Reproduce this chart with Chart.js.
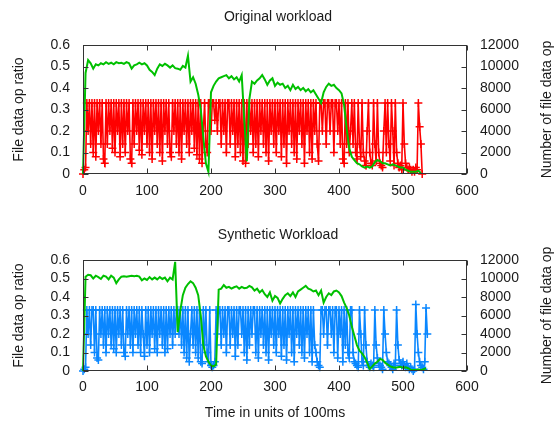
<!DOCTYPE html>
<html>
<head>
<meta charset="utf-8">
<script src="https://cdn.jsdelivr.net/npm/chart.js@4.4.0/dist/chart.umd.min.js"></script>
<style>
  html, body { margin: 0; padding: 0; background: #fff; }
  #wrap { position: relative; width: 556px; height: 434px; }
  .panel { position: absolute; left: 0; width: 556px; height: 217px; }
</style>
</head>
<body>
<div id="wrap">
  <div class="panel" style="top:0"><canvas id="origChart" width="556" height="217"></canvas></div>
  <div class="panel" style="top:217px"><canvas id="synthChart" width="556" height="217"></canvas></div>
</div>
<script>
// axis ticks
const timeTicks = [0, 100, 200, 300, 400, 500, 600];
const ratioTicks = [0, 0.1, 0.2, 0.3, 0.4, 0.5, 0.6];
const opsTicks = [0, 2000, 4000, 6000, 8000, 10000, 12000];

// ratio is sampled every 2 time units, op counts every 4
const ratioStep = 2;
const opsStep = 4;

// original workload: file data op ratio (t = 0, 2, 4 ...)
const origRatio = [
  0, 0.02, 0.03, 0.33, 0.2,      0.33, 0.14, 0.33, 0.1, 0.33,
  0.08, 0.33, 0.2, 0.33, 0.14,   0.33, 0.07, 0.05, 0.33, 0.14,
  0.33, 0.2, 0.33, 0.12, 0.33,   0.1, 0.33, 0.2, 0.33, 0.08,
  0.33, 0.14, 0.33, 0.1, 0.33,   0.2, 0.33, 0.07, 0.05, 0.33,
  0.14, 0.33, 0.2, 0.33, 0.11,   0.33, 0.09, 0.33, 0.2, 0.33,
  0.14, 0.33, 0.1, 0.33, 0.07,   0.33, 0.2, 0.33, 0.14, 0.33,
  0.1, 0.33, 0.06, 0.33, 0.2,    0.33, 0.14, 0.33, 0.1, 0.08,
  0.33, 0.2, 0.33, 0.14, 0.33,   0.1, 0.33, 0.07, 0.33, 0.2,
  0.33, 0.14, 0.33, 0.1, 0.33,   0.2, 0.33, 0.12, 0.33, 0.09,
  0.33, 0.07, 0.33, 0.05, 0.2,   0.33, 0.14, 0.1, 0.33, 0.33,
  0.2, 0.33, 0.33, 0.25, 0.33,   0.2, 0.33, 0.33, 0.14, 0.33,
  0.2, 0.33, 0.1, 0.33, 0.33,    0.14, 0.33, 0.2, 0.33, 0.08,
  0.33, 0.14, 0.33, 0.1, 0.33,   0.06, 0.33, 0.05, 0.33, 0.14,
  0.33, 0.2, 0.33, 0.1, 0.33,    0.14, 0.33, 0.08, 0.33, 0.2,
  0.33, 0.14, 0.33, 0.1, 0.33,   0.06, 0.33, 0.2, 0.33, 0.14,
  0.33, 0.1, 0.33, 0.2, 0.33,    0.08, 0.33, 0.14, 0.33, 0.05,
  0.33, 0.2, 0.33, 0.14, 0.33,   0.1, 0.33, 0.07, 0.33, 0.2,
  0.33, 0.14, 0.33, 0.05, 0.33,  0.2, 0.33, 0.1, 0.33, 0.07,
  0.33, 0.2, 0.33, 0.14, 0.06,   0.33, 0.33, 0.2, 0.33, 0.33,
  0.14, 0.33, 0.33, 0.2, 0.33,   0.33, 0.1, 0.33, 0.33, 0.2,
  0.33, 0.14, 0.33, 0.07, 0.05,  0.33, 0.14, 0.33, 0.1, 0.2,
  0.33, 0.14, 0.33, 0.1, 0.07,   0.33, 0.14, 0.08, 0.33, 0.1,
  0.06, 0.04, 0.2, 0.33, 0.1,    0.05, 0.04, 0.33, 0.14, 0.06,
  0.33, 0.1, 0.05, 0.04, 0.03,   0.2, 0.33, 0.1, 0.33, 0.14,
  0.06, 0.33, 0.2, 0.04, 0.33,   0.1, 0.05, 0.03, 0.04, 0.02,
  0.33, 0.14, 0.05, 0.03, 0.02,  0.03, 0.02, 0.01, 0.02, 0.01,
  0.03, 0.02, 0.33, 0.22, 0.14,  0
];

// original workload: number of file data ops (t = 0, 4, 8 ...)
const origOps = [
  0, 9400, 10600, 10300, 9800, 10200, 10100, 10300, 10200, 10400,
  10250, 10350, 10200, 10400, 10300, 10350, 10250, 10400, 10300, 9800,
  10100, 10200, 10350, 10200, 10300, 10100, 9700, 9500, 9200, 9800,
  10200, 10050, 10250, 10100, 9900, 10100, 9850, 9800, 9700, 10050,
  9900, 11000, 8600, 9000, 8400, 7400, 6000, 3400, 1000, 200,
  7600, 8200, 8600, 8900, 9000, 9100, 9200, 8900, 9100, 8800,
  9000, 8600, 9200, 5000, 1200, 7000, 8600, 8400, 8700, 8900,
  9200, 8800, 8300, 8700, 8900, 8200, 8500, 8300, 8400, 8000,
  8200, 7800, 8300, 7900, 8100, 7800, 8000, 7700, 7900, 7600,
  7800, 7400, 7000, 6600, 7600, 8100, 8400, 8200, 8300, 8000,
  7800, 7500, 6400, 4200, 2400, 1600, 1300, 1000, 900, 700,
  600, 700, 600, 700, 1100, 1300, 1200, 1000, 1000, 900,
  800, 900, 800, 700, 600, 600, 400, 300, 200, 200,
  200, 300, 100
];

// synthetic workload: file data op ratio (t = 0, 2, 4 ...)
const synthRatio = [
  0, 0.01, 0.02, 0.33, 0.2,      0.33, 0.14, 0.33, 0.33, 0.1,
  0.33, 0.07, 0.06, 0.33, 0.2,   0.33, 0.14, 0.33, 0.1, 0.33,
  0.2, 0.33, 0.14, 0.33, 0.12,   0.33, 0.1, 0.33, 0.2, 0.33,
  0.14, 0.33, 0.1, 0.08, 0.33,   0.2, 0.33, 0.14, 0.33, 0.1,
  0.33, 0.2, 0.33, 0.14, 0.33,   0.1, 0.33, 0.2, 0.08, 0.33,
  0.14, 0.33, 0.1, 0.33, 0.2,    0.33, 0.12, 0.33, 0.1, 0.33,
  0.2, 0.33, 0.14, 0.33, 0.1,    0.33, 0.12, 0.33, 0.2, 0.33,
  0.14, 0.33, 0.2, 0.33, 0.33,   0.2, 0.33, 0.14, 0.33, 0.1,
  0.33, 0.07, 0.33, 0.05, 0.2,   0.33, 0.14, 0.33, 0.1, 0.33,
  0.07, 0.33, 0.05, 0.04, 0.33,  0.14, 0.33, 0.1, 0.05, 0.33,
  0.03, 0.02, 0.03, 0.05, 0.33,  0.2, 0.33, 0.33, 0.14, 0.33,
  0.2, 0.33, 0.1, 0.33, 0.33,    0.14, 0.33, 0.2, 0.33, 0.08,
  0.33, 0.14, 0.33, 0.33, 0.2,   0.33, 0.1, 0.33, 0.06, 0.33,
  0.14, 0.33, 0.2, 0.33, 0.33,   0.1, 0.33, 0.07, 0.33, 0.2,
  0.33, 0.14, 0.33, 0.1, 0.33,   0.06, 0.33, 0.2, 0.33, 0.14,
  0.33, 0.1, 0.33, 0.2, 0.33,    0.08, 0.33, 0.14, 0.33, 0.06,
  0.33, 0.2, 0.33, 0.1, 0.33,    0.05, 0.33, 0.2, 0.33, 0.14,
  0.33, 0.1, 0.33, 0.07, 0.33,   0.2, 0.33, 0.1, 0.33, 0.05,
  0.33, 0.14, 0.1, 0.05, 0.03,   0.02, 0.33, 0.33, 0.2, 0.33,
  0.33, 0.14, 0.33, 0.33, 0.2,   0.33, 0.1, 0.33, 0.33, 0.07,
  0.33, 0.2, 0.33, 0.05, 0.33,   0.14, 0.33, 0.1, 0.07, 0.33,
  0.33, 0.1, 0.05, 0.04, 0.03,   0.02, 0.33, 0.2, 0.05, 0.03,
  0.33, 0.14, 0.05, 0.03, 0.02,  0.04, 0.03, 0.02, 0.33, 0.14,
  0.07, 0.04, 0.03, 0.02, 0.01,  0.33, 0.2, 0.1, 0.05, 0.04,
  0.03, 0.02, 0.01, 0.04, 0.03,  0.33, 0.14, 0.06, 0.04, 0.03,
  0.05, 0.03, 0.02, 0.04, 0.02,  0.01, 0.02, 0.01, 0, 0.01,
  0.36, 0.2, 0.1, 0.05, 0.03,    0.02, 0.01, 0.05, 0.34, 0.2
];

// synthetic workload: number of file data ops (t = 0, 4, 8 ...)
const synthOps = [
  0, 10200, 10400, 10350, 10000, 10300, 10150, 9950, 10300, 10200,
  9900, 10300, 10100, 9500, 9900, 10200, 10250, 10200, 10250, 10300,
  10250, 10300, 10200, 9800, 10000, 9850, 10150, 9900, 10100, 9900,
  10150, 9950, 10100, 9700, 10100, 9900, 11800, 4200, 6500, 8200,
  9000, 9400, 9700, 9500, 9000, 8200, 6000, 2800, 1600, 1000,
  600, 500, 700, 8800, 8900, 9300, 9000, 9100, 8900, 9050,
  9150, 8900, 9100, 8950, 9000, 9200, 9050, 8700, 8900, 8500,
  8750, 8300, 8000, 8500, 7600, 8100, 7900, 7300, 7800, 8200,
  8400, 8100, 8500, 8000, 8600, 8800, 9000, 9200, 8900, 8800,
  8600, 8700, 8200, 8700, 7400, 8000, 8400, 8200, 8600, 8700,
  8500, 8100, 7400, 6800, 6000, 4800, 3800, 2800, 2200, 1900,
  1500, 900, 200, 500, 800, 1000, 1300, 1200, 900, 700,
  500, 400, 350, 400, 450, 350, 400, 300, 150, 100,
  100, 150, 100, 200, 300
];

function toPoints(values, step) {
  return values.map((v, i) => ({ x: i * step, y: v }));
}

const FONT = { family: "'Liberation Sans', Arial, sans-serif", size: 14, weight: 'normal' };
const TEXT = '#1a1a1a';
const TICK_LEN = 5;

// box around the plot with inward ticks, and the right axis label (reads bottom to top)
const framePlugin = {
  id: 'frame',
  afterDraw(chart, args, opts) {
    const { ctx, chartArea: a, scales } = chart;
    const l = Math.round(a.left) + 0.5, r = Math.round(a.right) - 0.5;
    const t = Math.round(a.top) + 0.5, b = Math.round(a.bottom) - 0.5;
    ctx.save();
    ctx.strokeStyle = '#333';
    ctx.lineWidth = 1;
    ctx.strokeRect(l, t, r - l, b - t);
    ctx.beginPath();
    scales.x.ticks.forEach(tk => {
      const px = Math.round(scales.x.getPixelForValue(tk.value)) + 0.5;
      ctx.moveTo(px, b); ctx.lineTo(px, b - TICK_LEN);
      ctx.moveTo(px, t); ctx.lineTo(px, t + TICK_LEN);
    });
    scales.y.ticks.forEach(tk => {
      const py = Math.round(scales.y.getPixelForValue(tk.value)) + 0.5;
      ctx.moveTo(l, py); ctx.lineTo(l + TICK_LEN, py);
    });
    scales.y2.ticks.forEach(tk => {
      const py = Math.round(scales.y2.getPixelForValue(tk.value)) + 0.5;
      ctx.moveTo(r, py); ctx.lineTo(r - TICK_LEN, py);
    });
    ctx.stroke();

    ctx.translate(opts.titleX, (a.top + a.bottom) / 2);
    ctx.rotate(-Math.PI / 2);
    ctx.fillStyle = TEXT;
    ctx.font = FONT.size + 'px ' + FONT.family;
    ctx.textAlign = 'center';
    ctx.textBaseline = 'middle';
    ctx.fillText(opts.text, 0, 0);
    ctx.restore();
  }
};

function makeChart(canvasId, title, ratio, ops, ratioColor, cfg) {
  const ctx = document.getElementById(canvasId).getContext('2d');
  return new Chart(ctx, {
    type: 'line',
    data: {
      datasets: [
        {
          label: 'Number of file data op',
          data: toPoints(ops, opsStep),
          yAxisID: 'y2',
          borderColor: '#00c000',
          borderWidth: 2,
          pointRadius: 0,
          tension: 0,
          clip: 4
        },
        {
          label: 'File data op ratio',
          data: toPoints(ratio, ratioStep),
          yAxisID: 'y',
          borderColor: ratioColor,
          borderWidth: 1.6,
          pointStyle: 'cross',
          pointRadius: 4,
          pointBorderWidth: 1.5,
          pointBorderColor: ratioColor,
          pointBackgroundColor: ratioColor,
          tension: 0,
          clip: 6
        }
      ]
    },
    options: {
      responsive: false,
      animation: false,
      events: [],
      layout: { padding: 0 },
      plugins: {
        legend: { display: false },
        tooltip: { enabled: false },
        title: {
          display: true,
          text: title,
          font: FONT,
          color: TEXT,
          padding: cfg.titlePadding
        },
        frame: { text: 'Number of file data op', titleX: 547 }
      },
      scales: {
        x: {
          type: 'linear',
          position: 'bottom',
          min: 0,
          max: 600,
          grid: { display: false, drawTicks: false },
          border: { display: false },
          afterBuildTicks: s => { s.ticks = timeTicks.map(v => ({ value: v })); },
          afterFit: s => { s.height = cfg.xHeight; },
          ticks: {
            font: FONT,
            color: TEXT,
            padding: cfg.xTickPadding,
            maxRotation: 0,
            autoSkip: false,
            callback: v => String(v)
          },
          title: cfg.xTitle
            ? { display: true, text: cfg.xTitle, font: FONT, color: TEXT, padding: { top: 0, bottom: 12.6 } }
            : { display: false }
        },
        y: {
          position: 'left',
          min: 0,
          max: 0.6,
          grid: { display: false, drawTicks: false },
          border: { display: false },
          afterBuildTicks: s => { s.ticks = ratioTicks.map(v => ({ value: v })); },
          afterFit: s => { s.width = 83; },
          ticks: { font: FONT, color: TEXT, padding: 13, autoSkip: false, callback: v => String(v) },
          title: {
            display: true,
            text: 'File data op ratio',
            font: FONT,
            color: TEXT,
            padding: { top: 10.3, bottom: 0 }
          }
        },
        y2: {
          position: 'right',
          min: 0,
          max: 12000,
          grid: { display: false, drawTicks: false },
          border: { display: false },
          afterBuildTicks: s => { s.ticks = opsTicks.map(v => ({ value: v })); },
          afterFit: s => { s.width = 89; },
          ticks: { font: FONT, color: TEXT, padding: 13, autoSkip: false, callback: v => String(v) }
        }
      }
    },
    plugins: [framePlugin]
  });
}

makeChart('origChart', 'Original workload', origRatio, origOps, '#ff0000', {
  titlePadding: { top: 8.6, bottom: 19.6 },
  xHeight: 43,
  xTickPadding: 9
});

makeChart('synthChart', 'Synthetic Workload', synthRatio, synthOps, '#0a87ff', {
  titlePadding: { top: 9.6, bottom: 16.6 },
  xHeight: 63,
  xTickPadding: 8,
  xTitle: 'Time in units of 100ms'
});
</script>
</body>
</html>
